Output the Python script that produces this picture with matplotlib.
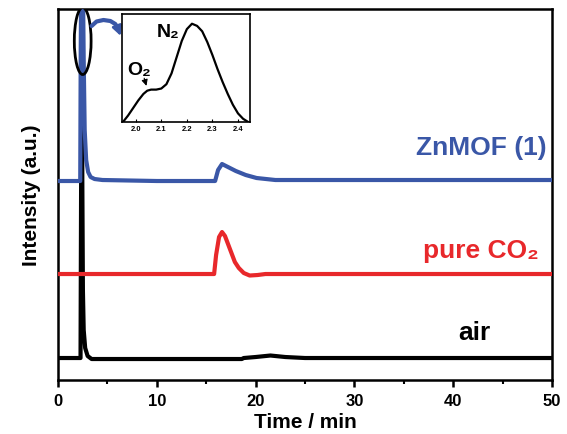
import matplotlib
matplotlib.use("Agg")
import matplotlib.pyplot as plt
from matplotlib.patches import Ellipse
from matplotlib.ticker import MultipleLocator

plt.rcParams['font.family'] = ['Liberation Sans', 'DejaVu Sans']
plt.rcParams['font.weight'] = 'bold'

# chromatogram traces (time in min, intensity in arbitrary units)
t_air = [0, 2.28, 2.34, 2.4, 2.46, 2.52, 2.6, 2.75, 3.0, 3.4, 5, 10, 18.6, 18.8, 20, 21.5, 23, 25, 30, 40, 50]
y_air = [22, 22, 200, 450, 200, 90, 50, 32, 24, 21, 21, 21, 21, 22, 23, 24.5, 23, 22, 22, 22, 22]

t_co2 = [0, 10, 15.8, 16.0, 16.3, 16.6, 16.9, 17.4, 17.9, 18.3, 18.8, 19.4, 20.2, 21, 30, 40, 50]
y_co2 = [106, 106, 106, 125, 143, 148, 144, 131, 118, 112, 107, 104.5, 105, 106, 106, 106, 106]

t_mof = [0, 2.25, 2.3, 2.4, 2.5, 2.6, 2.7, 2.85, 3.05, 3.3, 3.7, 4.5, 10, 15.9, 16.2, 16.6, 17.2, 18.0, 19.0, 20.1, 22, 30, 40, 50]
y_mof = [199, 199, 330, 460, 420, 320, 250, 220, 208, 203, 201, 200, 199, 199, 210, 216, 213, 209, 205, 202, 200, 200, 200, 200]

# inset: zoom of the first peak (O2 shoulder + N2)
t_in = [1.95, 1.97, 1.99, 2.01, 2.03, 2.045, 2.06, 2.08, 2.10, 2.12, 2.14, 2.16, 2.18, 2.20, 2.22,
        2.24, 2.26, 2.28, 2.30, 2.32, 2.34, 2.36, 2.38, 2.40, 2.42, 2.44]
y_in = [0.0, 0.06, 0.13, 0.20, 0.26, 0.29, 0.30, 0.30, 0.31, 0.35, 0.45, 0.60, 0.75, 0.86, 0.91,
        0.89, 0.84, 0.74, 0.62, 0.49, 0.37, 0.26, 0.16, 0.08, 0.03, 0.0]

# connector from the ellipse to the inset
t_link = [3.4, 3.9, 4.6, 5.3, 5.8, 6.05]
y_link = [354, 358.5, 360, 359, 356, 352]

blue = '#3a57a7'
red = '#e8282b'

fig = plt.figure(figsize=(5.67, 4.35), dpi=100)
ax = fig.add_axes([0.1023, 0.1241, 0.8713, 0.8529])

ax.plot(t_air, y_air, color='black', lw=3, zorder=2, solid_joinstyle='round')
ax.plot(t_co2, y_co2, color=red, lw=3, zorder=3, solid_joinstyle='round')
ax.plot(t_mof, y_mof, color=blue, lw=3, zorder=4, solid_joinstyle='round')

ax.set_xlim(0, 50)
ax.set_ylim(0, 371)
ax.set_yticks([])
ax.xaxis.set_major_locator(MultipleLocator(10))
ax.xaxis.set_minor_locator(MultipleLocator(5))
ax.tick_params(axis='x', which='major', direction='out', length=5, width=1.8, labelsize=12, pad=4)
ax.tick_params(axis='x', which='minor', direction='out', length=3, width=1.5)
for lab in ax.get_xticklabels():
    lab.set_fontweight('bold')
for s in ax.spines.values():
    s.set_linewidth(1.8)

ax.set_xlabel('Time / min', fontsize=15, fontweight='bold', labelpad=3)
ax.set_ylabel('Intensity (a.u.)', fontsize=15, fontweight='bold', labelpad=12)

ax.text(49.5, 233, 'ZnMOF (1)', color=blue, fontsize=19, fontweight='bold', ha='right', va='center')
ax.text(48.7, 130, 'pure CO\u2082', color=red, fontsize=19, fontweight='bold', ha='right', va='center')
ax.text(43.8, 48, 'air', color='black', fontsize=19, fontweight='bold', ha='right', va='center')

# ellipse around the first peak and connector to the inset
ax.add_patch(Ellipse((2.5, 339), 1.7, 67, fill=False, edgecolor='black', lw=2, zorder=6))
ax.plot(t_link, y_link, color=blue, lw=3, zorder=6, solid_capstyle='round', solid_joinstyle='round')
ax.annotate('', xy=(6.35, 344), xytext=(6.0, 353),
            arrowprops=dict(arrowstyle='-|>', color=blue, lw=2, mutation_scale=14,
                            shrinkA=0, shrinkB=0), zorder=6)

ins = fig.add_axes([0.2146, 0.7172, 0.2263, 0.2483])
ins.plot(t_in, y_in, color='black', lw=1.6, solid_joinstyle='round')
ins.set_xlim(1.945, 2.447)
ins.set_ylim(0, 1)
ins.set_yticks([])
ins.set_xticks([2.0, 2.1, 2.2, 2.3, 2.4])
ins.set_xticklabels(['2.0', '2.1', '2.2', '2.3', '2.4'])
ins.tick_params(axis='x', direction='in', length=2, width=0.8, labelsize=5.5, pad=2)
for lab in ins.get_xticklabels():
    lab.set_fontweight('bold')
for s in ins.spines.values():
    s.set_linewidth(1.2)
ins.text(2.126, 0.84, 'N\u2082', fontsize=14, fontweight='bold', ha='center', va='center')
ins.text(2.013, 0.49, 'O\u2082', fontsize=14, fontweight='bold', ha='center', va='center')
ins.annotate('', xy=(2.045, 0.31), xytext=(2.03, 0.43),
             arrowprops=dict(arrowstyle='-|>', color='black', lw=0.8, mutation_scale=9))

fig.savefig('out.png', dpi=100)
